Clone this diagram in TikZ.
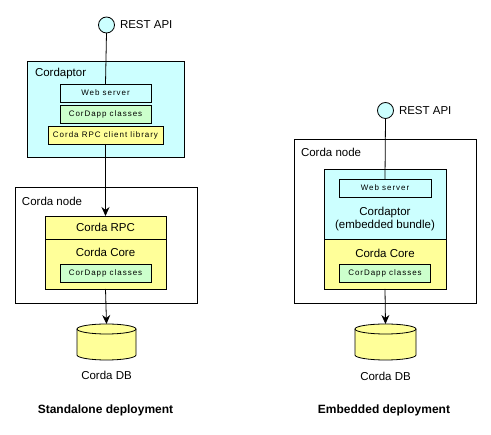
\documentclass[tikz,border=0pt]{standalone}
\usepackage{fontspec}
\setmainfont{Liberation Sans}
\newfontfamily\smallfam[LetterSpace=12]{Liberation Sans}
\usetikzlibrary{arrows.meta}
\definecolor{cyanF}{HTML}{CCFFFF}
\definecolor{greenF}{HTML}{CCFFCC}
\definecolor{yellowF}{HTML}{FFFF99}
\begin{document}
\begin{tikzpicture}[x=1pt,y=-1pt,
  line width=0.8pt,
  every node/.style={inner sep=0pt, outer sep=0pt},
  main/.style={font=\fontsize{11.5}{13}\selectfont},
  small/.style={font=\smallfam\fontsize{8}{9}\selectfont},
  title/.style={font=\bfseries\fontsize{12}{14}\selectfont},
  box/.style 2 args={draw, minimum width=#1, minimum height=#2},
  port/.style={draw, circle, fill=cyanF, minimum size=16pt},
  conn/.style={draw},
  arr/.style={draw, -{Stealth[length=9pt,width=8pt,inset=3pt]}}
]
\useasboundingbox (0,0) rectangle (491,435);

% ---------------- Standalone ----------------
\node[port] (restL) at (106.5,25) {};
\node[main, anchor=west] (restLt) at (120,25) {REST API};

\node[box={157pt}{96pt}, fill=cyanF] (cordL) at (105.5,109) {};
\node[main, anchor=west] (cordLt) at (35,74) {Cordaptor};
\node[box={91pt}{18pt}, fill=cyanF, small] (webL) at (105.5,93) {Web server};
\node[box={91pt}{18pt}, fill=greenF, small] (cdL) at (105.5,114) {CorDapp classes};
\node[box={115pt}{18pt}, fill=yellowF, small] (rpcl) at (105.5,135) {Corda RPC client library};

\node[box={182pt}{116pt}] (nodeL) at (106,245) {};
\node[main, anchor=west] (nodeLt) at (22,201) {Corda node};
\node[box={121pt}{23pt}, fill=yellowF, main] (rpc) at (105.5,227.5) {Corda RPC};
\node[box={121pt}{50pt}, fill=yellowF] (coreL) at (105.5,264) {};
\node[main] (coreLt) at (105.5,252) {Corda Core};
\node[box={91pt}{18pt}, fill=greenF, small] (cdL2) at (105.5,273) {CorDapp classes};

\draw[fill=yellowF] (77,329) -- (77,355)
  arc[start angle=180, end angle=360, x radius=29.5pt, y radius=5pt]
  -- (136,329)
  arc[start angle=0, end angle=180, x radius=29.5pt, y radius=5pt] -- cycle;
\draw (77,329) arc[start angle=180, end angle=360, x radius=29.5pt, y radius=5pt];
\coordinate (dbL) at (106.5,324);
\node[main] (dbLt) at (106.5,375) {Corda DB};
\node[title] (titL) at (105.5,410) {Standalone deployment};

\draw[conn] (restL.south) -- (webL.north);
\draw[arr] (rpcl.south) -- (rpc.north);
\draw[arr] (coreL.south) -- (dbL);

% ---------------- Embedded ----------------
\node[port] (restR) at (385.5,110.5) {};
\node[main, anchor=west] (restRt) at (399,110.5) {REST API};

\node[box={182pt}{164pt}] (nodeR) at (385,221) {};
\node[main, anchor=west] (nodeRt) at (301,152) {Corda node};
\node[box={122pt}{70pt}, fill=cyanF] (cordR) at (385,204) {};
\node[box={92pt}{18pt}, fill=cyanF, small] (webR) at (385,188) {Web server};
\node[main, align=center] (cordRt) at (385,219) {Cordaptor\\(embedded bundle)};
\node[box={122pt}{50pt}, fill=yellowF] (coreR) at (385,264) {};
\node[main] (coreRt) at (385,253) {Corda Core};
\node[box={91pt}{18pt}, fill=greenF, small] (cdR) at (385,273) {CorDapp classes};

\draw[fill=yellowF] (355,329) -- (355,355)
  arc[start angle=180, end angle=360, x radius=30.5pt, y radius=5pt]
  -- (416,329)
  arc[start angle=0, end angle=180, x radius=30.5pt, y radius=5pt] -- cycle;
\draw (355,329) arc[start angle=180, end angle=360, x radius=30.5pt, y radius=5pt];
\coordinate (dbR) at (385.5,324);
\node[main] (dbRt) at (385.5,376) {Corda DB};
\node[title] (titR) at (384,410) {Embedded deployment};

\draw[conn] (restR.south) -- (webR.north);
\draw[arr] (coreR.south) -- (dbR);
\end{tikzpicture}
\end{document}
